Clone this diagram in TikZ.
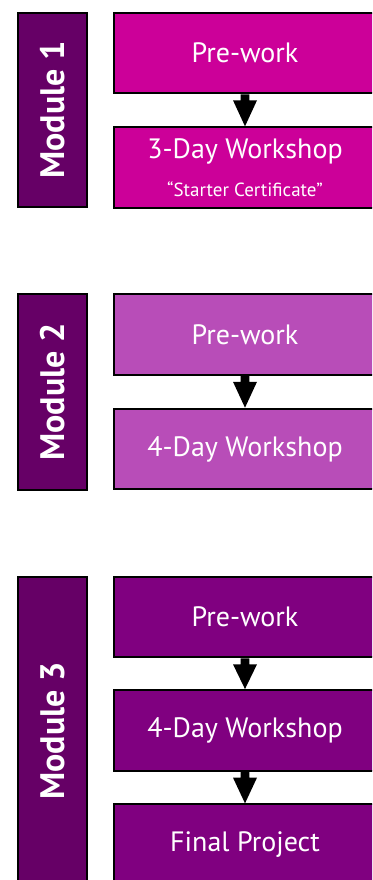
\documentclass[tikz,border=0pt]{standalone}
\usepackage{fontspec}
\setmainfont{PT Sans}
\usetikzlibrary{calc}
\definecolor{mOne}{HTML}{CC0099}
\definecolor{mTwo}{HTML}{B84DB8}
\definecolor{mThree}{HTML}{800080}
\definecolor{barcol}{HTML}{660066}
\newcommand\flowarrow[2]{%
  \fill let \p1=(#1.south), \p2=(#2.north) in
    (\x1-4.35pt,\y1) -- (\x1-4.35pt,\y1-6pt) -- (\x1-12pt,\y1-6pt) -- (\x1,\y2)
    -- (\x1+12pt,\y1-6pt) -- (\x1+4.35pt,\y1-6pt) -- (\x1+4.35pt,\y1) -- cycle;}
\tikzset{
  stagebox/.style={draw=black, line width=2pt, inner sep=0pt,
    minimum width=261.7pt, minimum height=80.6pt, text=white,
    font=\fontsize{28}{32}\selectfont, align=center},
  modbar/.style={draw=black, line width=2pt, fill=barcol, inner sep=0pt,
    minimum width=69pt, text=white, font=\fontsize{34}{38}\bfseries\selectfont}
}
\begin{document}
\begin{tikzpicture}[x=1pt,y=-1pt]
\useasboundingbox (0,0) rectangle (372,880);
\clip (0,0) rectangle (372,880);
% Module 1
\node[modbar, minimum height=194.6pt] (bar1) at (52.8,110) {\rotatebox{90}{Module 1}};
\node[stagebox, fill=mOne] (m1a) at (245,53) {Pre-work};
\node[stagebox, fill=mOne] (m1b) at (245,167.6) {3-Day Workshop\\[6pt]{\fontsize{19}{22}\selectfont “Starter Certificate”}};
\flowarrow{m1a}{m1b}
% Module 2
\node[modbar, minimum height=195.4pt] (bar2) at (52.8,392) {\rotatebox{90}{Module 2}};
\node[stagebox, fill=mTwo] (m2a) at (245,334.5) {Pre-work};
\node[stagebox, fill=mTwo] (m2b) at (245,449) {4-Day Workshop};
\flowarrow{m2a}{m2b}
% Module 3
\node[modbar, minimum height=308.3pt] (bar3) at (52.8,730.85) {\rotatebox{90}{Module 3}};
\node[stagebox, fill=mThree] (m3a) at (245,617) {Pre-work};
\node[stagebox, fill=mThree] (m3b) at (245,730.35) {4-Day Workshop};
\node[stagebox, fill=mThree] (m3c) at (245,844.65) {Final Project};
\flowarrow{m3a}{m3b}
\flowarrow{m3b}{m3c}
\end{tikzpicture}
\end{document}
